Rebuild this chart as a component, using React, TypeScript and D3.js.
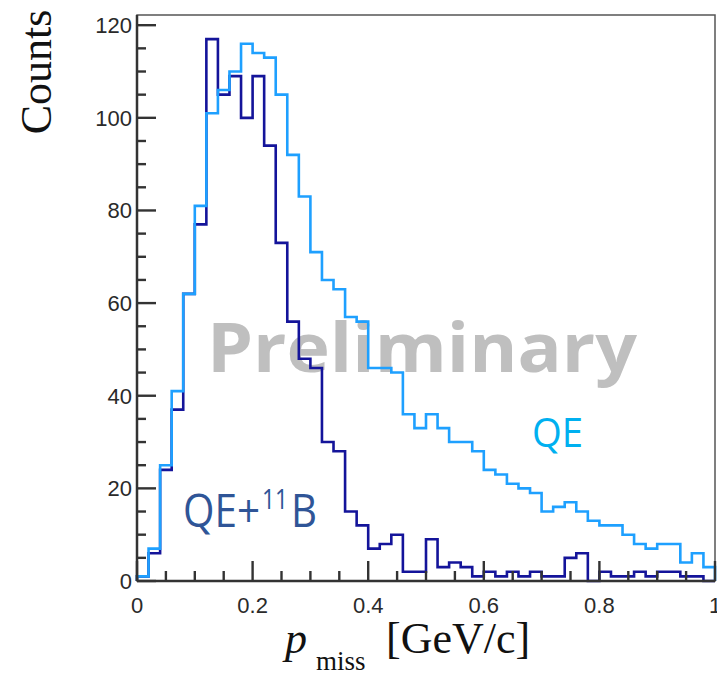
import React, { Component } from "react";
import * as d3 from 'd3';

// p_miss histogram, 50 bins of 0.02 GeV/c from 0 to 1
const binWidth = 0.02;
const binStarts = d3.range(0, 50).map(i => +(i * binWidth).toFixed(2));

// QE (light blue)
const qeCounts = [
  1, 7, 25, 41, 62, 81, 101, 106, 110, 116,
  114, 113, 105, 92, 83, 71, 65, 63, 57, 56,
  46, 46, 45, 36, 33, 36, 33, 30, 30, 28,
  24, 23, 21, 20, 19, 15, 16, 17, 15, 13,
  12, 12, 10, 8, 7, 8, 8, 4, 6, 3
];

// QE+11B (dark blue)
const qeBoronCounts = [
  1, 6, 24, 37, 62, 77, 117, 105, 109, 100,
  109, 94, 73, 56, 48, 46, 30, 28, 15, 12,
  7, 8, 10, 2, 2, 9, 3, 4, 3, 1,
  2, 1, 2, 1, 2, 1, 1, 5, 6, 0,
  2, 1, 1, 2, 1, 2, 2, 1, 1, 0
];

const xTicks = [0, 0.2, 0.4, 0.6, 0.8, 1];
const xMinorTicks = d3.range(0, 21).map(i => +(i * 0.05).toFixed(2)).filter(v => Math.round(v * 100) % 20 !== 0);
const yTicks = [0, 20, 40, 60, 80, 100, 120];
const yMinorTicks = d3.range(0, 125, 5).filter(v => v % 20 !== 0);

class PmissHist extends Component {
  constructor(props){
    super(props);
    this.viz = React.createRef();
  }

  componentDidMount() {
    this.drawGraph();
  }

  histPoints = (counts) => {
    // step outline: start on the baseline, one point per bin, close at x=1
    let pts = [[0, 0]];
    counts.forEach((c, i) => { pts.push([binStarts[i], c]); });
    pts.push([1, counts[counts.length - 1]]);
    pts.push([1, 0]);
    return pts;
  }

  drawGraph = () => {
    const width = 717, height = 675;
    const left = 137, right = 715, top = 15, bottom = 581;

    d3.select(this.viz.current).selectAll('*').remove();

    const svg = d3.select(this.viz.current).append('svg')
      .attr('width', width)
      .attr('height', height)
      .style('display', 'block')
      .style('background', '#fff');

    const x = d3.scaleLinear().domain([0, 1]).range([left, right]);
    const y = d3.scaleLinear().domain([0, 122.2]).range([bottom, top]);

    // watermark sits under the curves
    svg.append('text')
      .attr('x', 207)
      .attr('y', 372)
      .attr('textLength', 430)
      .attr('lengthAdjust', 'spacingAndGlyphs')
      .style('font-family', '"Open Sans", sans-serif')
      .style('font-weight', 700)
      .style('font-size', '68px')
      .style('fill', '#bfbfbf')
      .text('Preliminary');

    const line = d3.line()
      .x(d => x(d[0]))
      .y(d => y(d[1]))
      .curve(d3.curveStepAfter);

    svg.append('path')
      .datum(this.histPoints(qeBoronCounts))
      .attr('d', line)
      .style('fill', 'none')
      .style('stroke', '#14149a')
      .style('stroke-width', 2.6);

    svg.append('path')
      .datum(this.histPoints(qeCounts))
      .attr('d', line)
      .style('fill', 'none')
      .style('stroke', '#1ea0ff')
      .style('stroke-width', 2.6);

    // frame
    svg.append('rect')
      .attr('x', left)
      .attr('y', top)
      .attr('width', right - left)
      .attr('height', bottom - top)
      .style('fill', 'none')
      .style('stroke', '#555')
      .style('stroke-width', 1.5);

    // inward ticks, drawn straight from the scales
    const tickStyle = (sel) => sel.style('stroke', '#333').style('stroke-width', 2.4);

    svg.append('g').selectAll('line')
      .data(yTicks.map(v => [v, 19]).concat(yMinorTicks.map(v => [v, 9])))
      .join('line')
        .attr('x1', left)
        .attr('x2', d => left + d[1])
        .attr('y1', d => y(d[0]))
        .attr('y2', d => y(d[0]))
        .call(tickStyle);

    svg.append('g').selectAll('line')
      .data(xTicks.map(v => [v, 20]).concat(xMinorTicks.map(v => [v, 10])))
      .join('line')
        .attr('x1', d => x(d[0]))
        .attr('x2', d => x(d[0]))
        .attr('y1', bottom)
        .attr('y2', d => bottom - d[1])
        .call(tickStyle);

    const labelStyle = (sel) => sel
      .style('font-family', '"Liberation Sans", Arial, sans-serif')
      .style('font-size', '22px')
      .style('fill', '#2a2a2a');

    svg.append('g').selectAll('text')
      .data(yTicks)
      .join('text')
        .attr('x', left - 5)
        .attr('y', d => y(d))
        .attr('dy', '0.36em')
        .style('text-anchor', 'end')
        .call(labelStyle)
        .text(d => d);

    svg.append('g').selectAll('text')
      .data(xTicks)
      .join('text')
        .attr('x', d => x(d))
        .attr('y', bottom + 32)
        .style('text-anchor', 'middle')
        .call(labelStyle)
        .text(d => d3.format('')(d));

    // left and bottom axis lines
    svg.append('line')
      .attr('x1', left).attr('x2', left)
      .attr('y1', top).attr('y2', bottom)
      .style('stroke', '#333').style('stroke-width', 2.5);
    svg.append('line')
      .attr('x1', left).attr('x2', right)
      .attr('y1', bottom).attr('y2', bottom)
      .style('stroke', '#333').style('stroke-width', 2.5);

    // axis titles
    svg.append('text')
      .attr('transform', 'translate(51,72) rotate(-90)')
      .style('text-anchor', 'middle')
      .style('font-family', '"Liberation Serif", "Times New Roman", serif')
      .style('font-size', '44px')
      .style('fill', '#111')
      .text('Counts');

    const serif = '"Liberation Serif", "Times New Roman", serif';
    svg.append('text')
      .attr('x', 285).attr('y', 653)
      .style('font-family', serif)
      .style('font-style', 'italic')
      .style('font-size', '44px')
      .style('fill', '#111')
      .text('p');
    svg.append('text')
      .attr('x', 316).attr('y', 670)
      .style('font-family', serif)
      .style('font-size', '27px')
      .style('fill', '#111')
      .text('miss');
    svg.append('text')
      .attr('x', 386).attr('y', 653)
      .style('font-family', serif)
      .style('font-size', '44px')
      .style('fill', '#111')
      .text('[GeV/c]');

    // series labels
    const labelFont = '"Open Sans", "Noto Sans", sans-serif';
    svg.append('text')
      .attr('x', 532).attr('y', 447)
      .attr('textLength', 51)
      .attr('lengthAdjust', 'spacingAndGlyphs')
      .style('font-family', labelFont)
      .style('font-size', '40px')
      .style('fill', '#00b0f0')
      .text('QE');

    svg.append('text')
      .attr('x', 183).attr('y', 527)
      .attr('textLength', 77)
      .attr('lengthAdjust', 'spacingAndGlyphs')
      .style('font-family', labelFont)
      .style('font-size', '46px')
      .style('fill', '#2f5597')
      .text('QE+');
    svg.append('text')
      .attr('x', 262).attr('y', 509)
      .attr('textLength', 26)
      .attr('lengthAdjust', 'spacingAndGlyphs')
      .style('font-family', labelFont)
      .style('font-size', '28px')
      .style('fill', '#2f5597')
      .text('11');
    svg.append('text')
      .attr('x', 291).attr('y', 527)
      .attr('textLength', 26)
      .attr('lengthAdjust', 'spacingAndGlyphs')
      .style('font-family', labelFont)
      .style('font-size', '46px')
      .style('fill', '#2f5597')
      .text('B');
  }

  render(){
    return (
      <div className='PmissHist' ref={ this.viz } style={{ position: 'absolute', left: 0, top: 0 }}>
      </div>
    )
  }
}

export default function App() {
  return <PmissHist />;
}
